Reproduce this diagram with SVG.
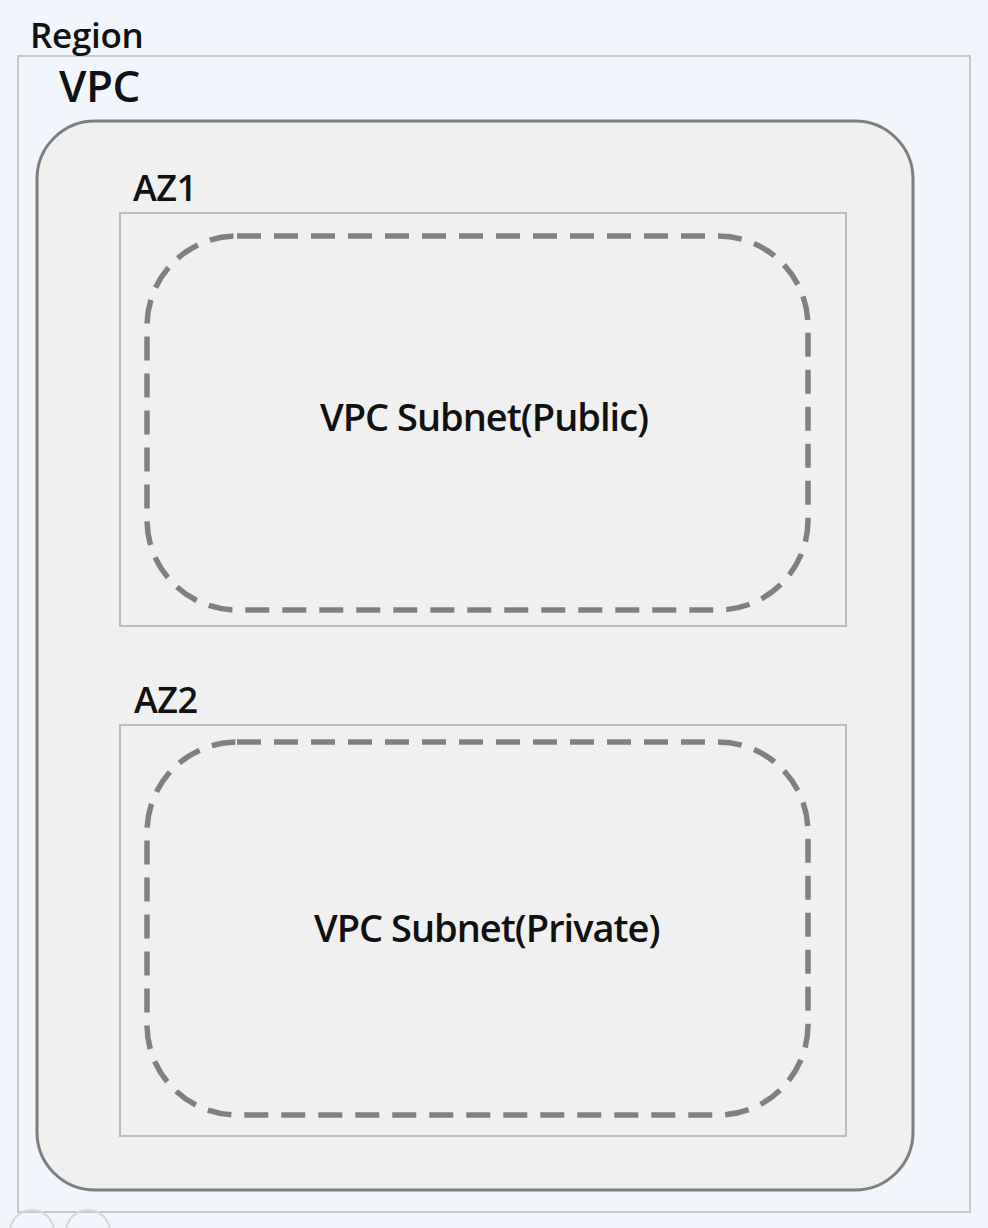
<svg xmlns="http://www.w3.org/2000/svg" width="988" height="1228" viewBox="0 0 988 1228">
<style>
.lbl{font-family:"Open Sans","Noto Sans","Liberation Sans",sans-serif;fill:#111;font-weight:600}
.az{fill:#f0f0f0;stroke:#bcbcbc;stroke-width:2}
.sub{fill:none;stroke:#808080;stroke-width:5.5;stroke-dasharray:24 13}
</style>
<rect x="0" y="0" width="988" height="1228" fill="#f1f5fc"/>
<g id="region">
<rect x="18" y="56" width="952" height="1156" fill="#f1f5fc" stroke="#c6c9cc" stroke-width="2"/>
<text class="lbl" x="30" y="48" font-size="35" letter-spacing="-0.3">Region</text>
</g>
<g id="vpc">
<rect x="37" y="121" width="876" height="1069" rx="58" ry="58" fill="#f0f0f0" stroke="#7f7f7f" stroke-width="3"/>
<text class="lbl" x="59" y="102" font-size="44" letter-spacing="-0.5">VPC</text>
</g>
<g id="az1">
<rect class="az" x="120" y="213" width="726" height="413"/>
<text class="lbl" x="133" y="201" font-size="36" letter-spacing="-0.5">AZ1</text>
</g>
<g id="az2">
<rect class="az" x="120" y="725" width="726" height="411"/>
<text class="lbl" x="134" y="713" font-size="36" letter-spacing="-0.5">AZ2</text>
</g>
<g id="subnet-public">
<rect class="sub" x="147" y="236" width="661" height="374" rx="90" ry="90"/>
<text class="lbl" x="320" y="431" font-size="38" letter-spacing="-1">VPC Subnet(Public)</text>
</g>
<g id="subnet-private">
<rect class="sub" x="147" y="742" width="661" height="373" rx="90" ry="90"/>
<text class="lbl" x="314" y="942" font-size="38" letter-spacing="-1">VPC Subnet(Private)</text>
</g>
<g id="connectors"/>
<g fill="none" stroke="#d4d7db" stroke-width="2">
<circle cx="32" cy="1232" r="22"/>
<circle cx="88" cy="1232" r="22"/>
</g>
</svg>
